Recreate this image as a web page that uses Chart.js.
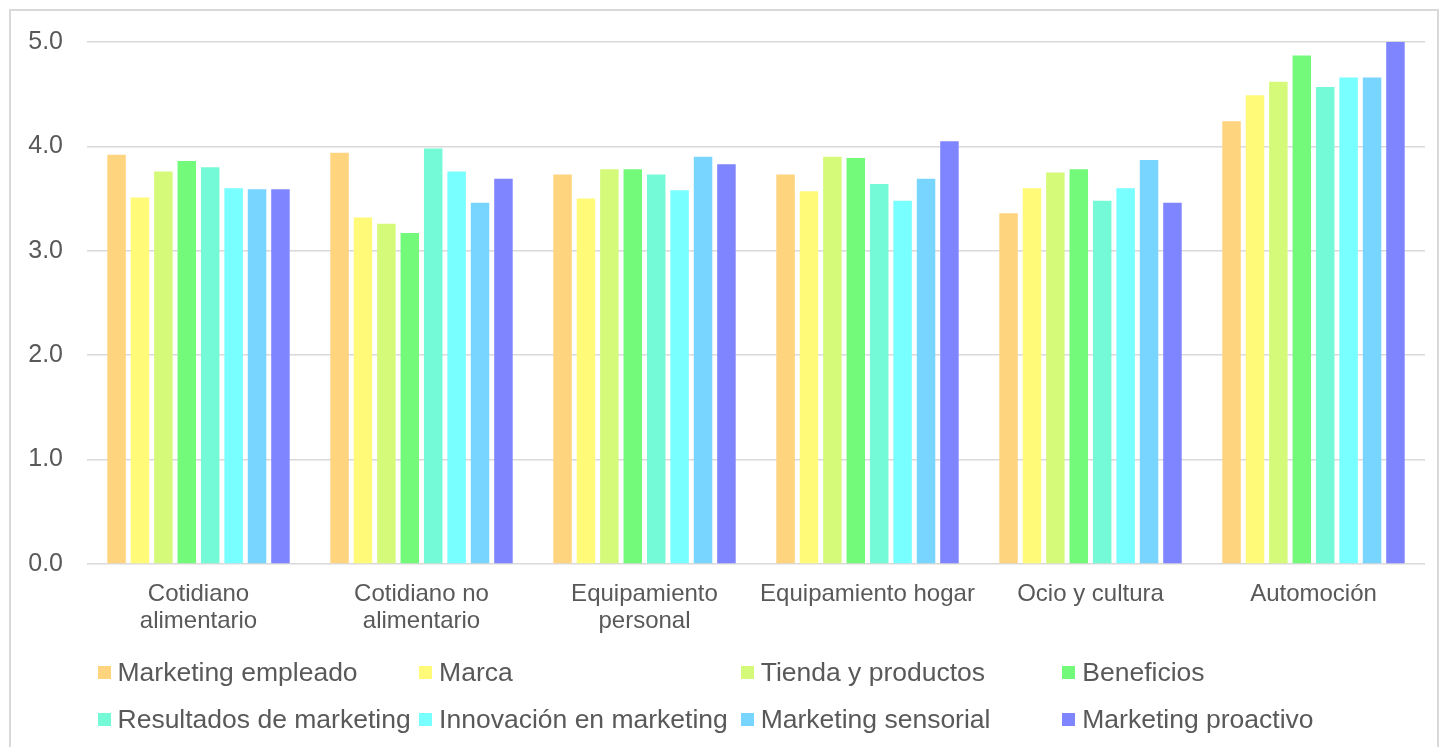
<!DOCTYPE html>
<html>
<head>
<meta charset="utf-8">
<script src="https://cdn.jsdelivr.net/npm/chart.js@4/dist/chart.umd.min.js"></script>
<style>
  html,body{margin:0;padding:0;background:#fff;}
  #wrap{position:relative;width:1444px;height:747px;overflow:hidden;}
  #frame{position:absolute;left:9px;top:9px;width:1430px;height:760px;border:2px solid #d9d9d9;box-sizing:border-box;}
  #chart{position:absolute;left:0;top:0;}
  #legend{position:absolute;left:0;top:0;width:1444px;height:747px;pointer-events:none;
    font-family:"Liberation Sans",Arial,sans-serif;font-size:26.5px;color:#595959;}
  .item{position:absolute;display:flex;align-items:center;white-space:nowrap;height:30px;}
  .sw{width:13px;height:13px;margin-right:7px;}
</style>
</head>
<body>
<div id="wrap">
  <div id="frame"></div>
  <canvas id="chart" width="1444" height="747"></canvas>
  <div id="legend"></div>
</div>
<script>
const categorias=[['Cotidiano','alimentario'],['Cotidiano no','alimentario'],['Equipamiento','personal'],'Equipamiento hogar','Ocio y cultura','Automoción'];
const series=['Marketing empleado','Marca','Tienda y productos','Beneficios','Resultados de marketing','Innovación en marketing','Marketing sensorial','Marketing proactivo'];
const colores=['#ffd47f','#fffa78','#d5fa7a','#74fa7a','#74fad6','#78ffff','#78d5ff','#7f84ff'];

const marketingEmpleado=[3.92,3.94,3.73,3.73,3.36,4.24];
const marca=[3.51,3.32,3.50,3.57,3.60,4.49];
const tiendaProductos=[3.76,3.26,3.78,3.90,3.75,4.62];
const beneficios=[3.86,3.17,3.78,3.89,3.78,4.87];
const resultadosMarketing=[3.80,3.98,3.73,3.64,3.48,4.57];
const innovacionMarketing=[3.60,3.76,3.58,3.48,3.60,4.66];
const marketingSensorial=[3.59,3.46,3.90,3.69,3.87,4.66];
const marketingProactivo=[3.59,3.69,3.83,4.05,3.46,5.00];
const valores=[marketingEmpleado,marca,tiendaProductos,beneficios,resultadosMarketing,innovacionMarketing,marketingSensorial,marketingProactivo];

const yTicks=[0,1,2,3,4,5];
const gris='#595959', rejilla='#d9d9d9';
const fuente='"Liberation Sans", Arial, sans-serif';

const ctx=document.getElementById('chart').getContext('2d');
const chart=new Chart(ctx,{
  type:'bar',
  data:{
    labels:categorias,
    datasets:series.map((s,i)=>({
      label:s,
      data:valores[i],
      backgroundColor:colores[i],
      borderWidth:0,
      categoryPercentage:0.84,
      barPercentage:0.79
    }))
  },
  options:{
    responsive:false,
    animation:false,
    layout:{padding:{top:42,right:19,left:0,bottom:0}},
    plugins:{legend:{display:false},tooltip:{enabled:false}},
    scales:{
      x:{
        grid:{display:false,drawTicks:false},
        border:{display:false},
        ticks:{color:gris,padding:17,maxRotation:0,autoSkip:false,font:{family:fuente,size:24,lineHeight:1.13}},
        afterFit:s=>{s.height=183;}
      },
      y:{
        min:0,max:5,
        afterBuildTicks:s=>{s.ticks=yTicks.map(v=>({value:v}));},
        grid:{color:rejilla,lineWidth:1.5,drawTicks:false},
        border:{display:false},
        ticks:{color:gris,padding:24,font:{family:fuente,size:25},callback:v=>Number(v).toFixed(1)},
        afterFit:s=>{s.width=87;}
      }
    }
  }
});

// leyenda en cuatro columnas fijas, dos filas
const leg=document.getElementById('legend');
chart.data.datasets.forEach((d,i)=>{
  const col=i%4,row=Math.floor(i/4);
  const el=document.createElement('div');
  el.className='item';
  el.style.left=(97.5+col*321.6)+'px';
  el.style.top=(672.7+row*46.6-15)+'px';
  el.innerHTML=`<span class="sw" style="background:${d.backgroundColor}"></span><span>${d.label}</span>`;
  leg.appendChild(el);
});
</script>
</body>
</html>
